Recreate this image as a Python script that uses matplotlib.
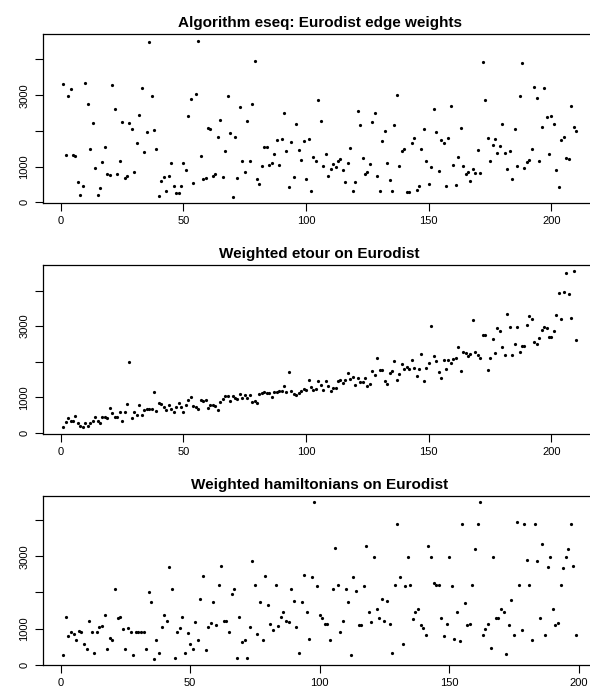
import matplotlib
matplotlib.use("Agg")
import matplotlib.pyplot as plt
import numpy as np

plt.rcParams['font.family'] = ['Liberation Sans', 'DejaVu Sans']

titles = ["Algorithm eseq: Eurodist edge weights",
          "Weighted etour on Eurodist",
          "Weighted hamiltonians on Eurodist"]

eseq_w = [3321, 1321, 2967, 3181, 1330, 1293, 577, 205, 456, 3349,
          2763, 1498, 2223, 958, 205, 409, 1135, 1544, 781, 753,
          3274, 2605, 800, 1172, 2260, 670, 744, 2223, 2047, 847,
          1665, 2437, 3200, 1414, 1972, 4484, 2986, 2019, 1488, 167,
          586, 716, 326, 735, 1116, 456, 270, 270, 456, 1116,
          893, 2428, 2893, 549, 3033, 4530, 1302, 642, 679, 2093,
          2047, 744, 781, 1823, 2298, 716, 1451, 2967, 1935, 149,
          1823, 679, 2670, 1153, 856, 2279, 1172, 2753, 3944, 642,
          521, 1014, 1553, 1544, 1051, 1107, 1349, 1758, 1033, 1786,
          2493, 1433, 419, 1693, 698, 2195, 1479, 1181, 1721, 660,
          1767, 316, 1284, 1153, 2865, 2288, 1014, 1358, 744, 921,
          1079, 977, 1153, 1209, 902, 577, 1107, 1535, 316, 577,
          2567, 2177, 1237, 800, 847, 1088, 2242, 2502, 726, 316,
          1712, 2009, 1107, 614, 316, 2177, 2995, 1023, 1451, 1507,
          279, 279, 1656, 1795, 335, 465, 1498, 2056, 1172, 512,
          995, 2623, 1963, 874, 1749, 1674, 456, 1805, 2698, 1051,
          474, 1274, 2093, 1014, 791, 856, 586, 940, 819, 1470,
          809, 3926, 2865, 1805, 1172, 1609, 1786, 1377, 1581, 2195,
          1395, 930, 1451, 651, 2065, 1023, 2967, 3888, 949, 1144,
          1200, 1498, 3228, 2930, 1153, 2112, 3191, 2400, 1358, 2428,
          2186, 893, 419, 1749, 1823, 1256, 1209, 2707, 2102, 1991]

etour_w = [149, 308, 410, 317, 317, 466, 280, 187, 149, 261,
           196, 280, 336, 457, 336, 261, 457, 448, 401, 709,
           550, 457, 457, 578, 317, 578, 812, 1996, 420, 578,
           513, 793, 513, 634, 662, 672, 672, 1157, 616, 849,
           812, 718, 634, 793, 662, 578, 728, 849, 737, 588,
           793, 924, 998, 756, 737, 681, 914, 896, 933, 709,
           784, 784, 756, 634, 877, 961, 1026, 1026, 905, 1035,
           989, 961, 1101, 970, 1063, 989, 1054, 868, 905, 840,
           1101, 1129, 1157, 1119, 1110, 1017, 1157, 1157, 1166, 1166,
           1315, 1157, 1698, 1166, 1091, 1073, 1119, 1166, 1231, 1203,
           1483, 1287, 1213, 1231, 1465, 1353, 1203, 1455, 1306, 1166,
           1269, 1269, 1465, 1483, 1399, 1493, 1679, 1521, 1558, 1343,
           1539, 1418, 1437, 1539, 1325, 1362, 1744, 1614, 2090, 1763,
           1772, 1446, 1371, 1670, 1744, 2015, 1493, 1651, 1931, 1800,
           1838, 1782, 2043, 1819, 1595, 1791, 2220, 1455, 1819, 1968,
           3004, 2173, 2006, 1716, 1530, 2043, 1791, 2043, 1968, 2071,
           2108, 2407, 1726, 2276, 2248, 2173, 2220, 3172, 2276, 2183,
           2108, 2752, 2761, 1754, 2090, 2631, 2257, 2957, 2864, 2425,
           2192, 3340, 2976, 2192, 2500, 2966, 2285, 2435, 2435, 3032,
           3284, 3200, 2565, 2500, 2668, 2901, 2976, 2938, 2705, 2705,
           2873, 3312, 3937, 3190, 3955, 4496, 3899, 3237, 4543, 2612]

ham_w = [275, 1330, 798, 899, 862, 688, 927, 917, 587, 431,
         1211, 899, 330, 917, 1037, 1064, 1385, 431, 734, 697,
         2083, 1303, 1321, 982, 431, 1018, 899, 266, 908, 908,
         908, 899, 431, 2018, 1734, 174, 697, 321, 1055, 1376,
         1211, 2706, 2083, 202, 917, 1009, 1321, 321, 890, 587,
         431, 1183, 697, 1817, 2450, 404, 1055, 1156, 1734, 1101,
         2193, 2716, 1211, 1211, 899, 1945, 2083, 202, 1321, 642,
         697, 202, 1055, 2872, 2193, 844, 1734, 697, 2450, 1661,
         1119, 954, 2193, 1083, 1321, 1468, 1211, 1174, 2083, 1761,
         1055, 321, 1725, 2495, 1459, 716, 2440, 4495, 2183, 1367,
         1294, 1119, 1119, 679, 2083, 3239, 2193, 899, 1211, 2101,
         1734, 266, 2440, 2046, 1101, 1101, 2183, 3284, 1459, 1183,
         2982, 1550, 1294, 1807, 1211, 1752, 1119, 321, 2193, 3890,
         2440, 578, 2183, 2982, 2202, 1275, 1459, 1550, 1101, 1009,
         817, 3284, 2982, 2248, 2193, 2193, 1294, 798, 1119, 2982,
         2183, 725, 1459, 651, 3890, 1706, 1101, 1119, 2211, 3202,
         3890, 4495, 817, 991, 1119, 459, 2982, 1294, 1294, 1550,
         1459, 312, 1101, 1798, 817, 3954, 2202, 954, 3890, 2899,
         2202, 697, 3890, 2872, 1284, 3349, 817, 2706, 2982, 1550,
         1101, 1165, 2202, 2670, 2982, 3202, 3890, 2716, 817]

series = [eseq_w, etour_w, ham_w]
yticks = [0, 1000, 2000, 3000, 4000]
ytick_labels = ["0", "1000", "", "3000", ""]
xticks = [0, 50, 100, 150, 200]

W, H = 590, 693
fig = plt.figure(figsize=(W / 100, H / 100), dpi=100)

# box positions in pixels (left, top, right, bottom)
boxes = [(42.7, 34.3, 596.5, 203.3),
         (42.7, 265.0, 596.5, 433.7),
         (42.7, 495.7, 596.6, 665.0)]

for vals, title, (l, t, r, b) in zip(series, titles, boxes):
    ax = fig.add_axes([l / W, 1 - b / H, (r - l) / W, (b - t) / H])
    y = np.array(vals, dtype=float)
    x = np.arange(1, len(y) + 1)
    ax.plot(x, y, linestyle='none', marker='o', ms=2.3, color='black',
            markeredgewidth=0)
    xr = x.max() - x.min()
    yr = y.max() - y.min()
    ax.set_xlim(x.min() - 0.04 * xr, x.max() + 0.04 * xr)
    ax.set_ylim(y.min() - 0.04 * yr, y.max() + 0.04 * yr)
    ax.set_xticks(xticks)
    ax.set_xticklabels([str(v) for v in xticks])
    ax.set_yticks(yticks)
    ax.set_yticklabels(ytick_labels)
    for lab in ax.get_yticklabels():
        lab.set_rotation(90)
        lab.set_va('center')
    ax.tick_params(axis='both', direction='out', length=5.5, width=0.8,
                   labelsize=8, colors='black', pad=4)
    for s in ax.spines.values():
        s.set_linewidth(0.9)
        s.set_color('black')
    ax.set_title(title, fontsize=11, fontweight='bold', pad=5)

fig.savefig("out.png", dpi=100)
